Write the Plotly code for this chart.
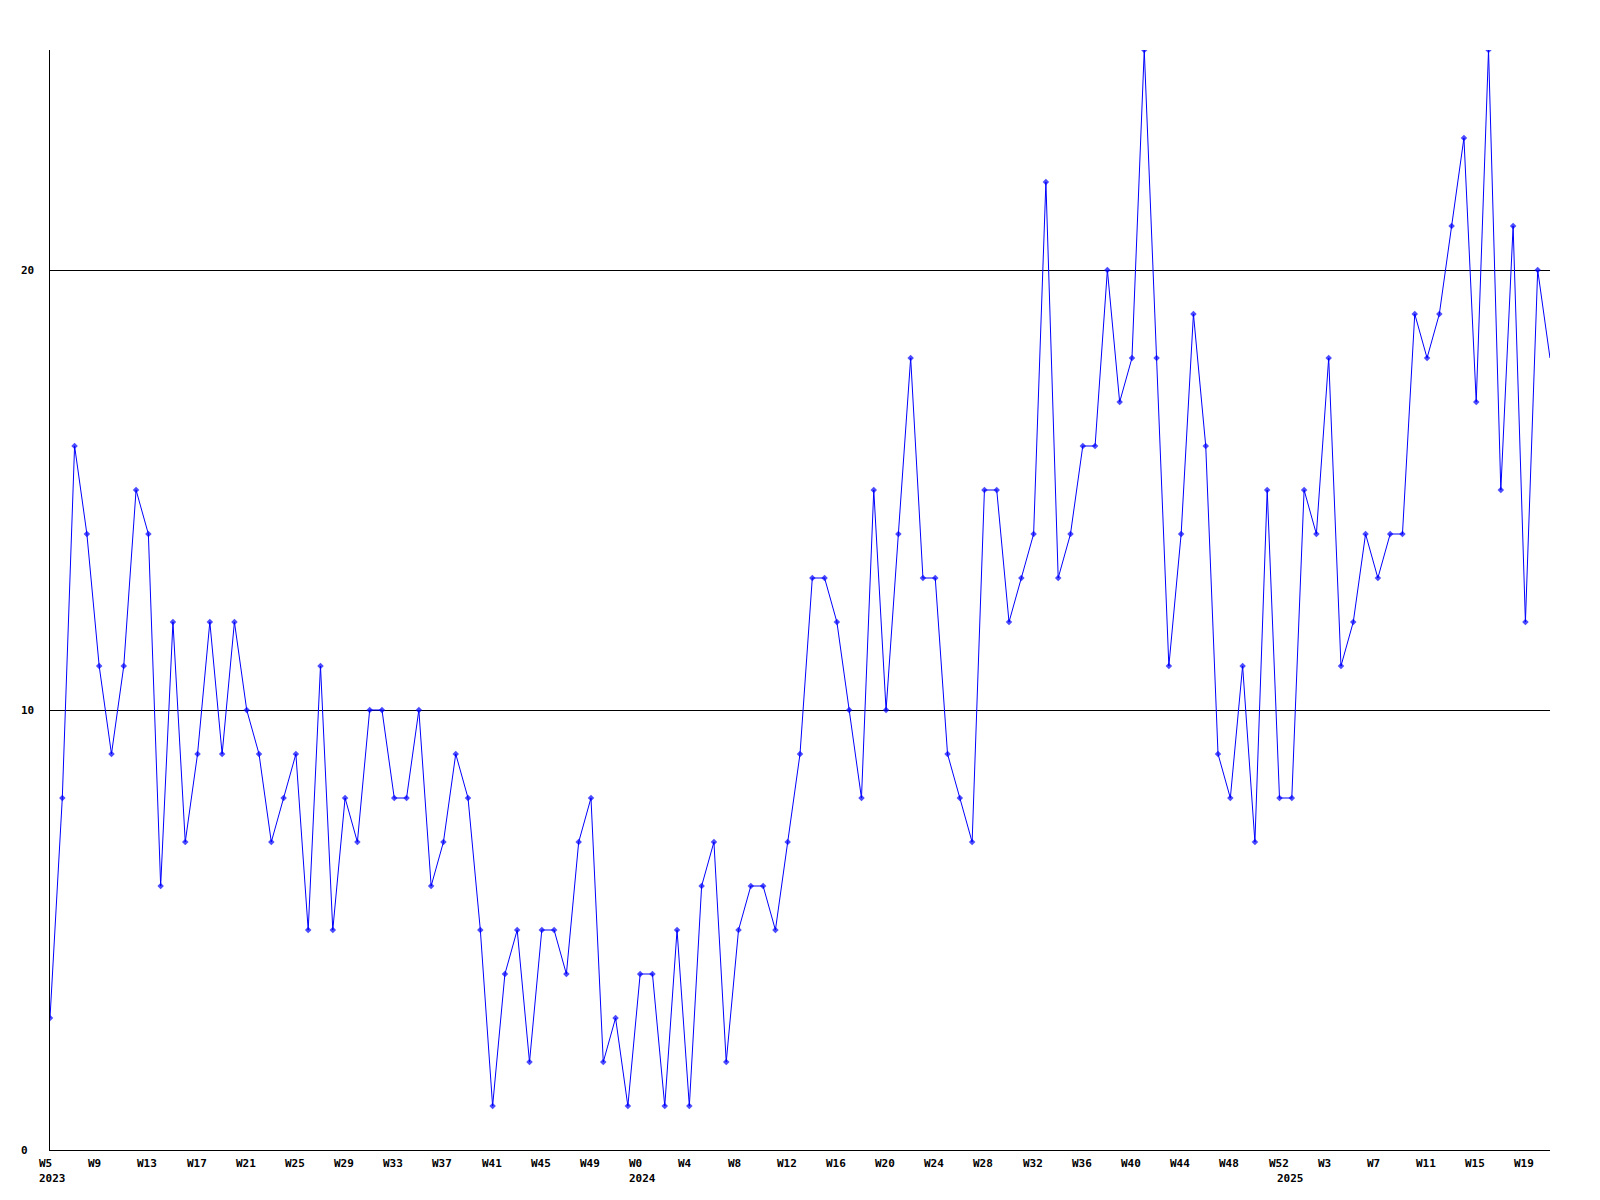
import plotly.graph_objects as go

values = [3, 8, 16, 14, 11, 9, 11, 15, 14, 6, 12, 7, 9, 12, 9, 12, 10, 9, 7, 8,
          9, 5, 11, 5, 8, 7, 10, 10, 8, 8, 10, 6, 7, 9, 8, 5, 1, 4, 5, 2,
          5, 5, 4, 7, 8, 2, 3, 1, 4, 4, 1, 5, 1, 6, 7, 2, 5, 6, 6, 5,
          7, 9, 13, 13, 12, 10, 8, 15, 10, 14, 18, 13, 13, 9, 8, 7, 15, 15, 12, 13,
          14, 22, 13, 14, 16, 16, 20, 17, 18, 25, 18, 11, 14, 19, 16, 9, 8, 11, 7, 15,
          8, 8, 15, 14, 18, 11, 12, 14, 13, 14, 14, 19, 18, 19, 21, 23, 17, 25, 15, 21,
          12, 20, 18]

tick_labels = ["W5", "W9", "W13", "W17", "W21", "W25", "W29", "W33", "W37", "W41", "W45", "W49",
               "W0", "W4", "W8", "W12", "W16", "W20", "W24", "W28", "W32", "W36", "W40", "W44", "W48", "W52",
               "W3", "W7", "W11", "W15", "W19"]
tick_step = 4
year_labels = ["2023", "2024", "2025"]
year_week_index = [0, 48, 100.7]
y_labels = [0, 10, 20]
y_grid = [10, 20]

x = list(range(len(values)))
font = dict(family="DejaVu Sans Mono", size=11, color="black", weight="bold")

fig = go.Figure()
fig.add_trace(go.Scatter(
    x=x, y=values, mode="lines+markers",
    line=dict(color="#0000ff", width=1),
    marker=dict(symbol="diamond", size=[5] * (len(values) - 1) + [0], color="#0000ff",
                line=dict(width=0)),
    hoverinfo="x+y", showlegend=False,
))

annotations = []
for k, lab in enumerate(tick_labels):
    annotations.append(dict(x=k * tick_step, y=0, xref="x", yref="paper", text=lab, showarrow=False,
                            xanchor="left", yanchor="top", xshift=-13, yshift=-5, font=font))
for yr, xi in zip(year_labels, year_week_index):
    annotations.append(dict(x=xi, y=0, xref="x", yref="paper", text=yr, showarrow=False,
                            xanchor="left", yanchor="top", xshift=-13, yshift=-20, font=font))
for v in y_labels:
    annotations.append(dict(x=-0.0207, y=v, xref="paper", yref="y", text=str(v), showarrow=False,
                            xanchor="left", yanchor="middle", font=font))

# page body has an 8px default margin, so the plot margins are reduced by 8px
fig.update_layout(
    width=1600, height=1200,
    margin=dict(l=42, r=58, t=42, b=58, autoexpand=False),
    paper_bgcolor="white", plot_bgcolor="white",
    xaxis=dict(range=[0, len(values) - 1], showgrid=False, zeroline=False, showline=True,
               linecolor="black", linewidth=1, showticklabels=False, ticks=""),
    yaxis=dict(range=[0, 25], tickvals=y_grid, showgrid=True, gridcolor="black", gridwidth=1,
               zeroline=False, showline=True, linecolor="black", linewidth=1,
               showticklabels=False, ticks=""),
    annotations=annotations,
)

fig.write_html("out.html")
